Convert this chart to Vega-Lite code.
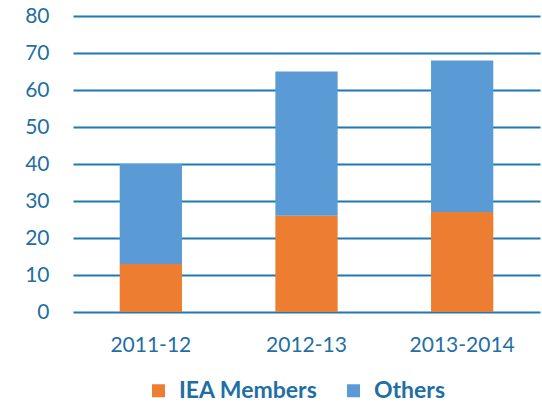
{
  "$schema": "https://vega.github.io/schema/vega-lite/v6.json",
  "width": 467,
  "height": 296,
  "autosize": {"type": "none"},
  "padding": {"left": 73, "top": 16, "right": 2, "bottom": 90},
  "background": "white",
  "config": {
    "view": {"stroke": null},
    "font": "Lato"
  },
  "data": {
    "values": [
      {"year": "2011-12", "group": "IEA Members", "rank": 1, "value": 13},
      {"year": "2011-12", "group": "Others", "rank": 2, "value": 27},
      {"year": "2012-13", "group": "IEA Members", "rank": 1, "value": 26},
      {"year": "2012-13", "group": "Others", "rank": 2, "value": 39},
      {"year": "2013-2014", "group": "IEA Members", "rank": 1, "value": 27},
      {"year": "2013-2014", "group": "Others", "rank": 2, "value": 41}
    ]
  },
  "mark": {"type": "bar"},
  "encoding": {
    "x": {
      "field": "year", "type": "nominal", "sort": null, "title": null,
      "scale": {"paddingInner": 0.6, "paddingOuter": 0.3},
      "axis": {"labelAngle": 0, "domain": false, "ticks": false, "labelPadding": 22, "labelFontSize": 21, "labelColor": "#1f6fa3", "labelFont": "Lato"}
    },
    "y": {
      "field": "value", "type": "quantitative", "title": null, "stack": "zero",
      "scale": {"domain": [0, 80]},
      "axis": {"values": [0,10,20,30,40,50,60,70,80], "domain": false, "ticks": false, "labelPadding": 24, "labelFontSize": 21, "labelColor": "#1f6fa3", "gridColor": "#1f78b0", "gridWidth": 2, "gridOpacity": 1, "labelFont": "Lato"}
    },
    "color": {
      "field": "group", "type": "nominal", "title": null,
      "scale": {"domain": ["IEA Members", "Others"], "range": ["#ED7D31", "#5B9BD5"]},
      "legend": {"orient": "none", "direction": "horizontal", "legendX": 74, "legendY": 363, "symbolType": "square", "symbolSize": 169, "symbolStrokeWidth": 0, "labelFontSize": 23, "labelFontWeight": "bold", "labelColor": "#1f6fa3", "columnPadding": 24, "labelOffset": 9, "labelFont": "Lato", "labelLimit": 300}
    },
    "order": {"field": "rank", "type": "quantitative"}
  }
}
